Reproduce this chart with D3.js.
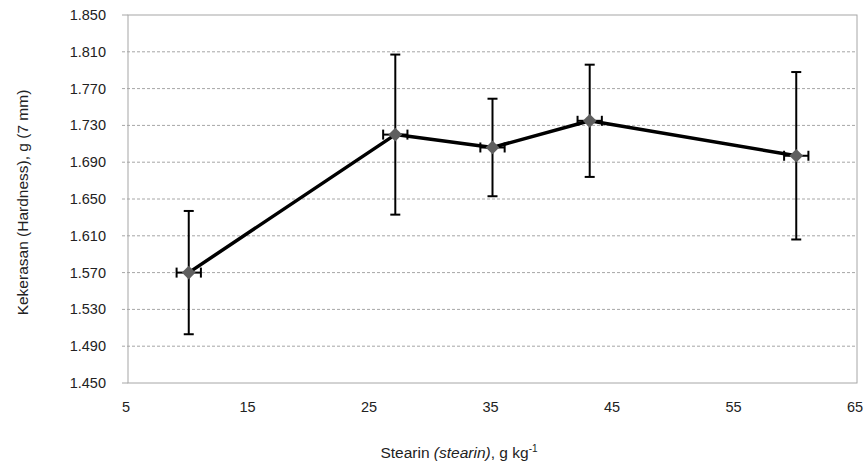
<!DOCTYPE html>
<html>
<head>
<meta charset="utf-8">
<script src="https://cdn.jsdelivr.net/npm/d3@7"></script>
<style>
  body { margin: 0; background: #fff; }
  text { font-family: "Liberation Sans Narrow", "Liberation Sans", Arial, sans-serif; fill: #222; }
</style>
</head>
<body>
<div id="chart"></div>
<script>
// Stearin level vs hardness, with error bars
const stearin = [10, 27, 35, 43, 60];
const hardness = [1.570, 1.720, 1.706, 1.735, 1.697];
const yErr = [0.067, 0.087, 0.053, 0.061, 0.091];
const xErr = [1, 1, 1, 1, 1];
const yTicks = [1.450, 1.490, 1.530, 1.570, 1.610, 1.650, 1.690, 1.730, 1.770, 1.810, 1.850];
const xTicks = [5, 15, 25, 35, 45, 55, 65];

const width = 867, height = 463;
const margin = { left: 128, right: 10, top: 15, bottom: 80 };

const svg = d3.select("#chart")
    .append("svg")
    .attr("width", width)
    .attr("height", height);

const x = d3.scaleLinear().domain([5, 65]).range([margin.left, width - margin.right]);
const y = d3.scaleLinear().domain([1.450, 1.850]).range([height - margin.bottom, margin.top]);

// Gridlines (dashed, extend past axis as ticks)
svg.append("g")
    .selectAll("line")
    .data(yTicks.filter(d => d > 1.450 && d < 1.850))
    .enter()
    .append("line")
    .attr("x1", margin.left - 6)
    .attr("x2", width - margin.right)
    .attr("y1", d => y(d))
    .attr("y2", d => y(d))
    .attr("stroke", "#a6a6a6")
    .attr("stroke-dasharray", "3,2");

// Plot border
svg.append("rect")
    .attr("x", margin.left)
    .attr("y", margin.top)
    .attr("width", width - margin.right - margin.left)
    .attr("height", height - margin.bottom - margin.top)
    .attr("fill", "none")
    .attr("stroke", "#a6a6a6");

// Ticks on top/bottom lines
svg.append("g")
    .selectAll("line")
    .data([1.450, 1.850])
    .enter()
    .append("line")
    .attr("x1", margin.left - 6)
    .attr("x2", margin.left)
    .attr("y1", d => y(d))
    .attr("y2", d => y(d))
    .attr("stroke", "#a6a6a6");

// Y tick labels
svg.append("g")
    .selectAll("text")
    .data(yTicks)
    .enter()
    .append("text")
    .attr("x", margin.left - 22)
    .attr("y", d => y(d) + 5)
    .attr("text-anchor", "end")
    .attr("font-size", "14.5px")
    .text(d => d3.format(".3f")(d));

// X tick labels
svg.append("g")
    .selectAll("text")
    .data(xTicks)
    .enter()
    .append("text")
    .attr("x", d => x(d) - 2)
    .attr("y", height - margin.bottom + 29)
    .attr("text-anchor", "middle")
    .attr("font-size", "14.5px")
    .text(d => d);

// Axis titles
svg.append("text")
    .attr("transform", `translate(28, ${(88 + 317) / 2}) rotate(-90)`)
    .attr("text-anchor", "middle")
    .attr("font-size", "15.5px")
    .text("Kekerasan (Hardness), g (7 mm)");

const xt = svg.append("text")
    .attr("x", 459)
    .attr("y", 458)
    .attr("text-anchor", "middle")
    .attr("font-size", "15.5px");
xt.append("tspan").text("Stearin ");
xt.append("tspan").attr("font-style", "italic").text("(stearin)");
xt.append("tspan").text(", g kg");
xt.append("tspan").attr("font-size", "10px").attr("dy", -6).text("-1");

const pts = stearin.map((s, i) => ({ x: s, y: hardness[i], ey: yErr[i], ex: xErr[i] }));

// Line
svg.append("path")
    .datum(pts)
    .attr("fill", "none")
    .attr("stroke", "#000")
    .attr("stroke-width", 3.5)
    .attr("stroke-linejoin", "round")
    .attr("d", d3.line().x(d => x(d.x)).y(d => y(d.y)));

// Error bars
const eb = svg.append("g").attr("stroke", "#000").attr("stroke-width", 2);
pts.forEach(d => {
    const cx = x(d.x), cy = y(d.y);
    eb.append("line").attr("x1", cx).attr("x2", cx).attr("y1", y(d.y + d.ey)).attr("y2", y(d.y - d.ey));
    eb.append("line").attr("x1", cx - 5).attr("x2", cx + 5).attr("y1", y(d.y + d.ey)).attr("y2", y(d.y + d.ey));
    eb.append("line").attr("x1", cx - 5).attr("x2", cx + 5).attr("y1", y(d.y - d.ey)).attr("y2", y(d.y - d.ey));
    eb.append("line").attr("x1", x(d.x - d.ex)).attr("x2", x(d.x + d.ex)).attr("y1", cy).attr("y2", cy);
    eb.append("line").attr("x1", x(d.x - d.ex)).attr("x2", x(d.x - d.ex)).attr("y1", cy - 5).attr("y2", cy + 5);
    eb.append("line").attr("x1", x(d.x + d.ex)).attr("x2", x(d.x + d.ex)).attr("y1", cy - 5).attr("y2", cy + 5);
});

// Markers
svg.append("g")
    .selectAll("path")
    .data(pts)
    .enter()
    .append("path")
    .attr("transform", d => `translate(${x(d.x)},${y(d.y)})`)
    .attr("d", d3.symbol().type(d3.symbolDiamond2).size(120))
    .attr("fill", "#5f5f5f");
</script>
</body>
</html>
